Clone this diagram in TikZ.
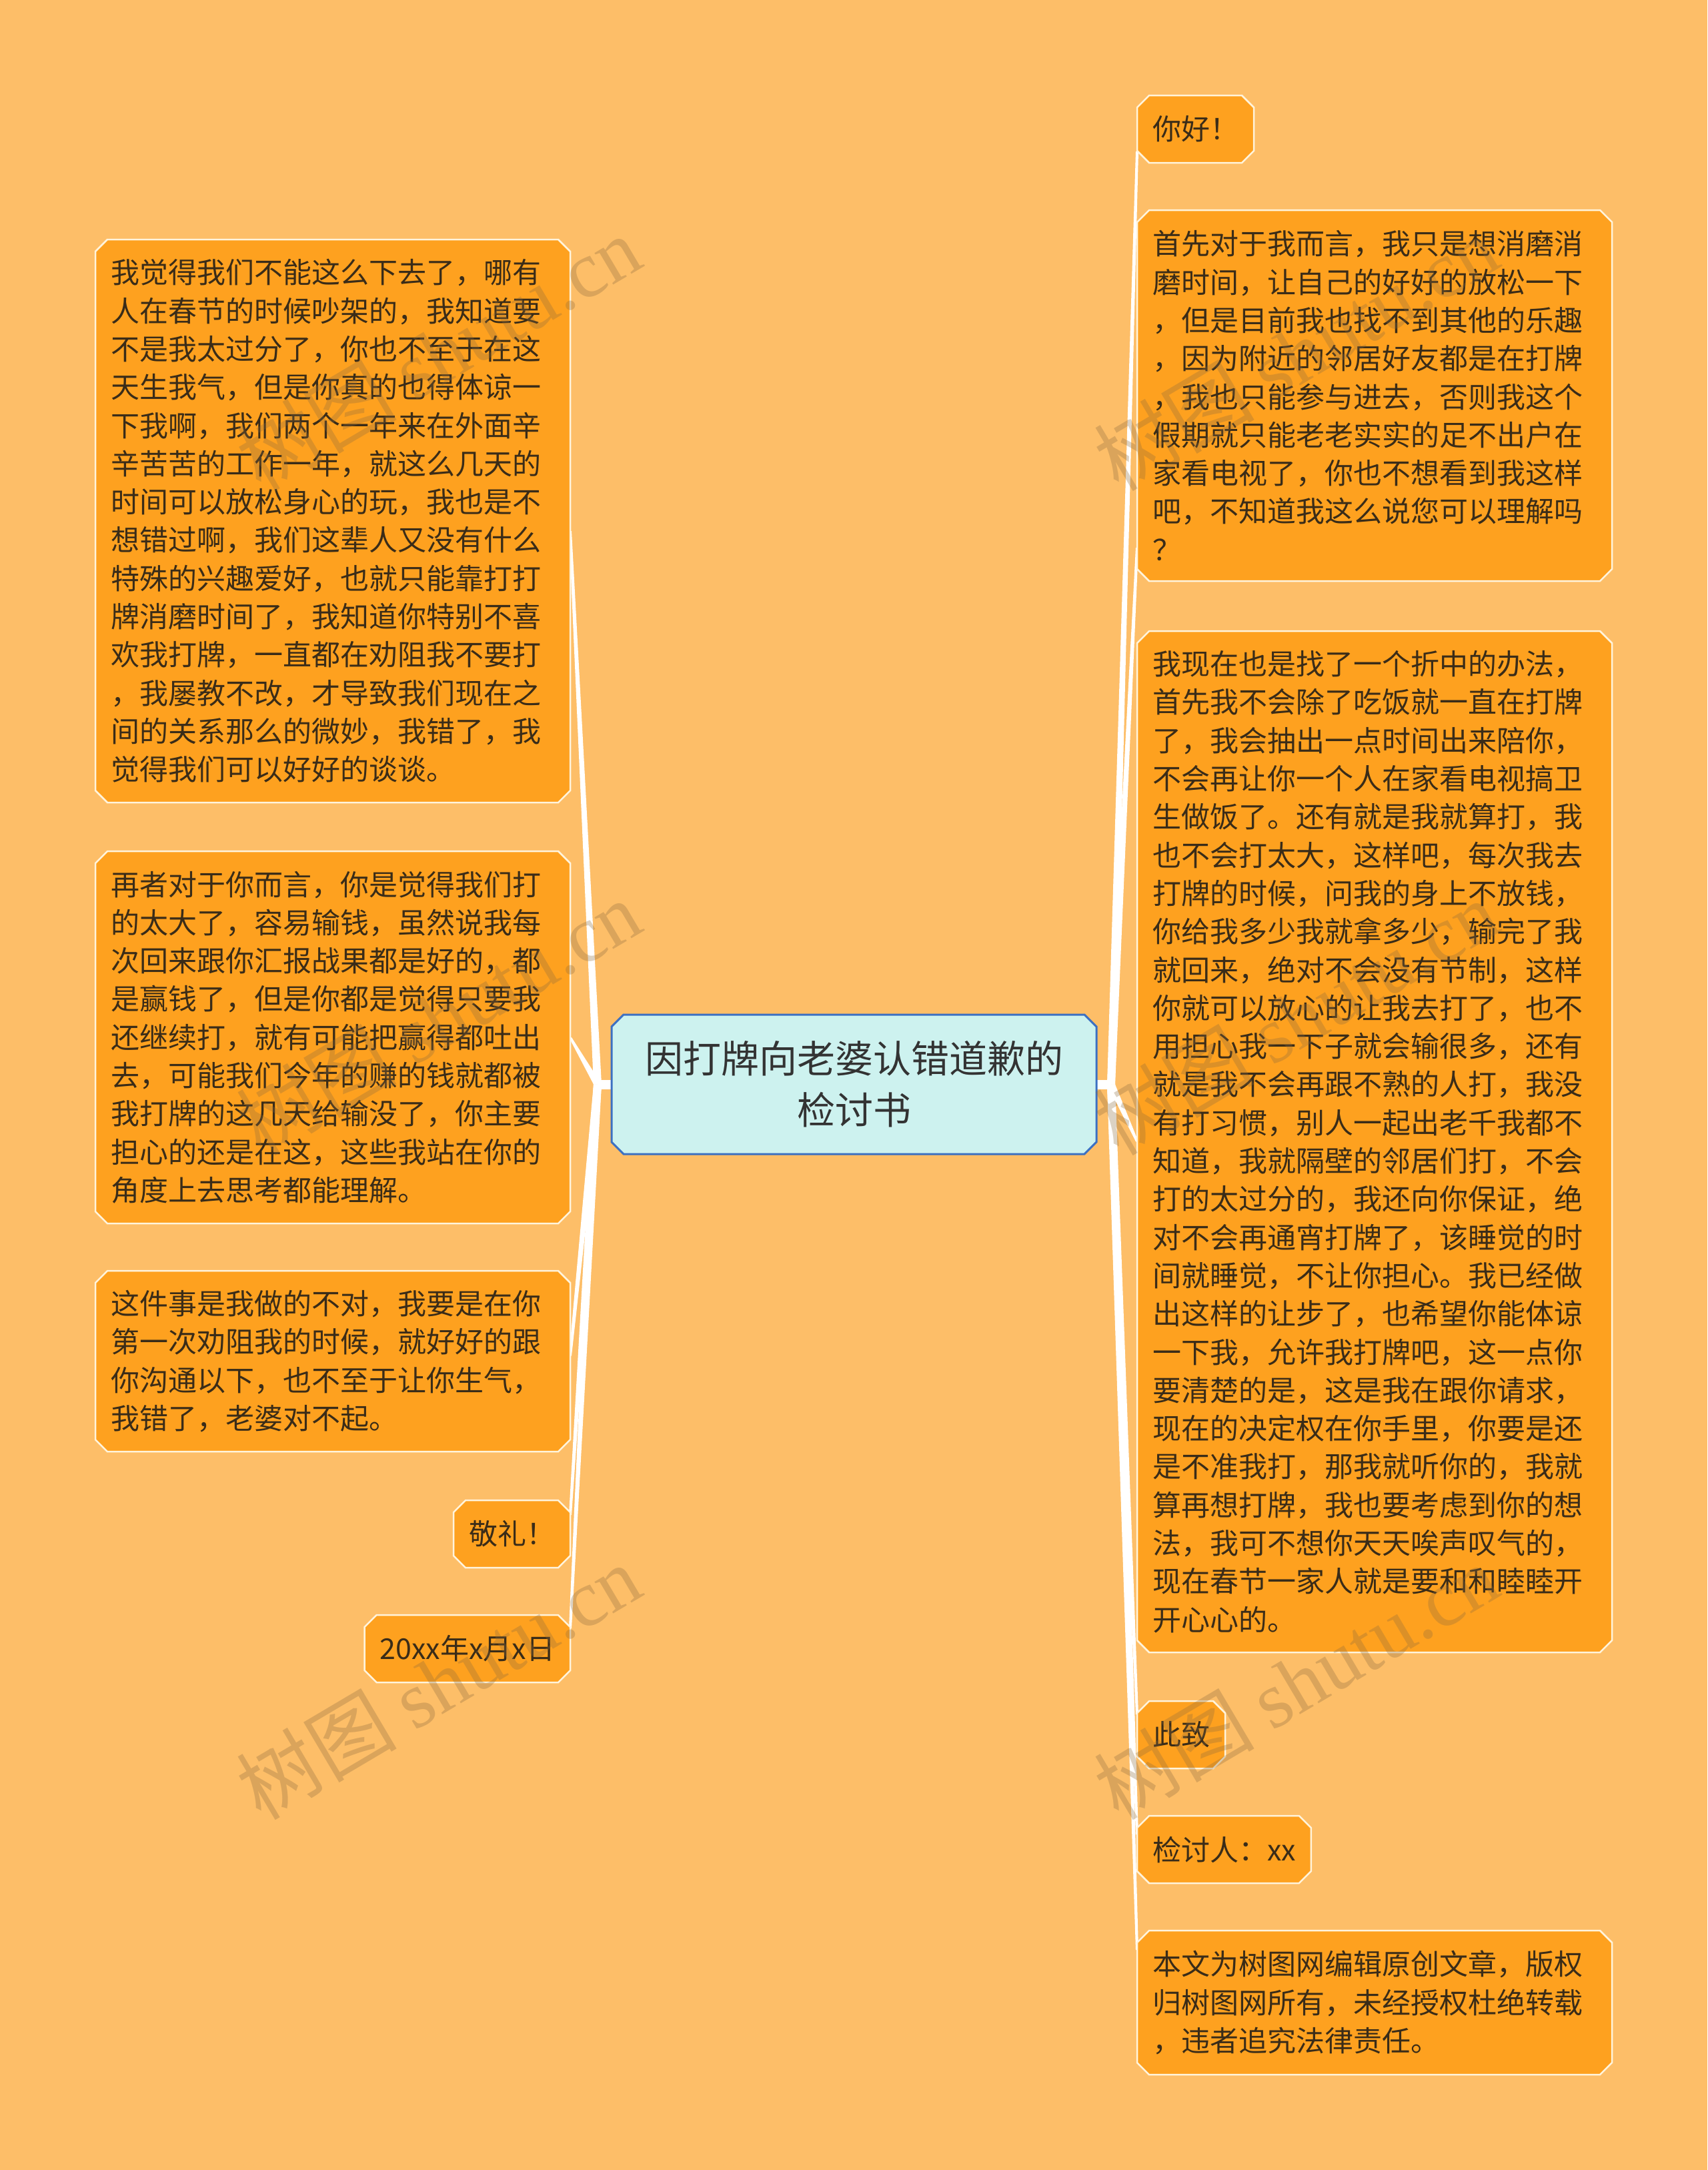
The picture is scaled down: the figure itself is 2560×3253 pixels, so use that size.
\documentclass[tikz,border=0pt]{standalone}
\usepackage{fontspec}
\setmainfont{Noto Sans CJK SC}
\newfontfamily\wmlatin{Liberation Serif}
\usetikzlibrary{calc}
\definecolor{bg}{HTML}{FDBE68}
\definecolor{boxfill}{HTML}{FEA11F}
\definecolor{boxline}{HTML}{FFF4DC}
\definecolor{txt}{HTML}{3A2C18}
\definecolor{ctxt}{HTML}{333333}
\definecolor{cfill}{HTML}{CDF2EF}
\definecolor{cline}{HTML}{3C70C2}
\definecolor{wm}{HTML}{8B6A3E}
\pgfdeclarelayer{bgl}\pgfdeclarelayer{conn}\pgfdeclarelayer{boxes}
\pgfsetlayers{bgl,conn,boxes,main}
\tikzset{
  txtnode/.style={inner xsep=23pt, inner ysep=0pt, outer sep=0pt, text=txt,
    font=\fontsize{43}{57.3}\selectfont, align=left},
  bigbox/.style={txtnode, text width=666pt, minimum width=712pt},
  smallbox/.style={txtnode, minimum height=101pt},
  boxshape/.style={fill=boxfill, draw=boxline, line width=2.5pt},
  centershape/.style={fill=cfill, draw=cline, line width=3pt},
  centernode/.style={inner sep=0pt, outer sep=0pt, text=ctxt, align=center,
    font=\fontsize{57}{77}\selectfont},
  connfill/.style={fill=white},
  stubline/.style={draw=white, line width=14pt},
  wmark/.style={text=wm, text opacity=0.3, font=\fontsize{120}{120}\selectfont,
    rotate=30.6, inner sep=0pt}
}
\newcommand\chbox[2]{%
  \begin{pgfonlayer}{boxes}
  \path[#1] ($(#2.north west)+(18,0)$) -- ($(#2.north east)+(-18,0)$)
    -- ($(#2.north east)+(0,18)$) -- ($(#2.south east)+(0,-18)$)
    -- ($(#2.south east)+(-18,0)$) -- ($(#2.south west)+(18,0)$)
    -- ($(#2.south west)+(0,-18)$) -- ($(#2.north west)+(0,18)$) -- cycle;
  \end{pgfonlayer}}
\newcommand\conwedge[2]{%
  \begin{pgfonlayer}{conn}
  \fill[connfill] ($(#1)+(-6,0)$) -- ($(#2)+(-2,0)$) -- ($(#2)+(2,0)$)
    -- ($(#1)+(6,0)$) -- cycle;
  \end{pgfonlayer}}
\begin{document}
\begin{tikzpicture}[x=1pt,y=-1pt]
\useasboundingbox (0,0) rectangle (2560,3253);
\begin{pgfonlayer}{bgl}
\fill[bg] (0,0) rectangle (2560,3253);
\end{pgfonlayer}

% centre
\node[centernode, minimum width=727pt, minimum height=209pt, anchor=north west] (C) at (917,1521)
  {因打牌向老婆认错道歉的\\检讨书};
\chbox{centershape}{C}

% left boxes
\node[bigbox, minimum height=844pt, anchor=north west] (LB1) at (143,359)
 {我觉得我们不能这么下去了，哪有\\人在春节的时候吵架的，我知道要\\不是我太过分了，你也不至于在这\\天生我气，但是你真的也得体谅一\\下我啊，我们两个一年来在外面辛\\辛苦苦的工作一年，就这么几天的\\时间可以放松身心的玩，我也是不\\想错过啊，我们这辈人又没有什么\\特殊的兴趣爱好，也就只能靠打打\\牌消磨时间了，我知道你特别不喜\\欢我打牌，一直都在劝阻我不要打\\，我屡教不改，才导致我们现在之\\间的关系那么的微妙，我错了，我\\觉得我们可以好好的谈谈。};
\node[bigbox, minimum height=558pt, anchor=north west] (LB2) at (143,1276)
 {再者对于你而言，你是觉得我们打\\的太大了，容易输钱，虽然说我每\\次回来跟你汇报战果都是好的，都\\是赢钱了，但是你都是觉得只要我\\还继续打，就有可能把赢得都吐出\\去，可能我们今年的赚的钱就都被\\我打牌的这几天给输没了，你主要\\担心的还是在这，这些我站在你的\\角度上去思考都能理解。};
\node[bigbox, minimum height=271pt, anchor=north west] (LB3) at (143,1905)
 {这件事是我做的不对，我要是在你\\第一次劝阻我的时候，就好好的跟\\你沟通以下，也不至于让你生气，\\我错了，老婆对不起。};
\node[smallbox, anchor=north east] (LB4) at (855,2249) {敬礼！};
\node[smallbox, anchor=north east] (LB5) at (855,2421) {20xx年x月x日};

% right boxes
\node[smallbox, anchor=north west] (R1) at (1705,143) {你好！};
\node[bigbox, minimum height=556pt, anchor=north west] (R2) at (1705,315)
 {首先对于我而言，我只是想消磨消\\磨时间，让自己的好好的放松一下\\，但是目前我也找不到其他的乐趣\\，因为附近的邻居好友都是在打牌\\，我也只能参与进去，否则我这个\\假期就只能老老实实的足不出户在\\家看电视了，你也不想看到我这样\\吧，不知道我这么说您可以理解吗\\？};
\node[bigbox, minimum height=1531pt, anchor=north west] (R3) at (1705,946)
 {我现在也是找了一个折中的办法，\\首先我不会除了吃饭就一直在打牌\\了，我会抽出一点时间出来陪你，\\不会再让你一个人在家看电视搞卫\\生做饭了。还有就是我就算打，我\\也不会打太大，这样吧，每次我去\\打牌的时候，问我的身上不放钱，\\你给我多少我就拿多少，输完了我\\就回来，绝对不会没有节制，这样\\你就可以放心的让我去打了，也不\\用担心我一下子就会输很多，还有\\就是我不会再跟不熟的人打，我没\\有打习惯，别人一起出老千我都不\\知道，我就隔壁的邻居们打，不会\\打的太过分的，我还向你保证，绝\\对不会再通宵打牌了，该睡觉的时\\间就睡觉，不让你担心。我已经做\\出这样的让步了，也希望你能体谅\\一下我，允许我打牌吧，这一点你\\要清楚的是，这是我在跟你请求，\\现在的决定权在你手里，你要是还\\是不准我打，那我就听你的，我就\\算再想打牌，我也要考虑到你的想\\法，我可不想你天天唉声叹气的，\\现在春节一家人就是要和和睦睦开\\开心心的。};
\node[smallbox, anchor=north west] (R4) at (1705,2550) {此致};
\node[smallbox, anchor=north west] (R5) at (1705,2722) {检讨人：xx};
\node[bigbox, minimum height=216pt, anchor=north west] (R6) at (1705,2894)
 {本文为树图网编辑原创文章，版权\\归树图网所有，未经授权杜绝转载\\，违者追究法律责任。};

\foreach \b in {LB1,LB2,LB3,LB4,LB5,R1,R2,R3,R4,R5,R6}{\chbox{boxshape}{\b}}

% hubs and connector ends
\coordinate (hubL) at (896,1625.5);
\coordinate (hubR) at (1666,1625.5);
\coordinate (eLB1) at ($(LB1.east)+(0,15)$);
\coordinate (eLB2) at (LB2.east);
\coordinate (eLB3) at ($(LB3.east)+(0,-8)$);
\coordinate (eLB4) at ($(LB4.north east)+(0,22)$);
\coordinate (eLB5) at ($(LB5.north east)+(0,20)$);
\coordinate (eR1) at ($(R1.south west)+(0,-17)$);
\coordinate (eR2) at ($(R2.south west)+(0,-50)$);
\coordinate (eR3) at (R3.west);
\coordinate (eR4) at ($(R4.north west)+(0,20)$);
\coordinate (eR5) at ($(R5.north west)+(0,28)$);
\coordinate (eR6) at ($(R6.north west)+(0,29)$);

\begin{pgfonlayer}{conn}
\draw[stubline] (hubL) -- (C.west);
\draw[stubline] (C.east) -- (hubR);
\end{pgfonlayer}
\foreach \e in {eLB1,eLB2,eLB3,eLB4,eLB5}{\conwedge{hubL}{\e}}
\foreach \e in {eR1,eR2,eR3,eR4,eR5,eR6}{\conwedge{hubR}{\e}}

% watermarks
\node[wmark] (w1) at (657,529) {树图 {\wmlatin shutu.cn}};
\node[wmark] (w2) at (657,1525) {树图 {\wmlatin shutu.cn}};
\node[wmark] (w3) at (657,2521) {树图 {\wmlatin shutu.cn}};
\node[wmark] (w4) at (1943,529) {树图 {\wmlatin shutu.cn}};
\node[wmark] (w5) at (1943,1525) {树图 {\wmlatin shutu.cn}};
\node[wmark] (w6) at (1943,2521) {树图 {\wmlatin shutu.cn}};
\end{tikzpicture}
\end{document}
